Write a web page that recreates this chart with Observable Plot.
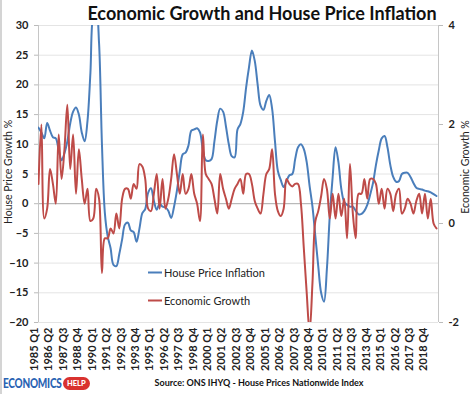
<!DOCTYPE html>
<html><head><meta charset="utf-8">
<script src="https://cdn.jsdelivr.net/npm/d3@7"></script>
<script src="https://cdn.jsdelivr.net/npm/@observablehq/plot@0.6"></script>
<style>
body{margin:0;background:#fff;font-family:Lato,"Open Sans",sans-serif;}
#wrap{position:relative;width:474px;height:394px;overflow:hidden;background:#fff}
.abs{position:absolute;white-space:nowrap}
.rot{transform:translate(-50%,-50%) rotate(-90deg)}
#title{left:262px;top:2px;transform:translateX(-50%);font-size:18px;font-weight:bold;color:#111}
.ytitle{font-size:10.5px;color:#222}
.leg{font-size:11px;color:#222;display:flex;align-items:center;transform:translateY(-50%)}
.leg span.sw{display:inline-block;width:14px;height:2px;margin-right:2px}
#src{left:259px;top:382px;transform:translate(-50%,-50%);font-size:9px;font-weight:bold;color:#111}
#logoE{left:3px;top:375px;font-size:13.5px;font-weight:900;color:#2a63b3;transform:scaleX(0.74);transform-origin:left center;letter-spacing:-0.3px}
#logoH{left:63px;top:377px;font-size:7.5px;font-weight:900;color:#fff;background:#d9322f;border-radius:7px;padding:2px 4px}
#edge{left:0;top:0;width:2px;height:394px;background:#d4d4d4}
</style></head>
<body><div id="wrap"></div>
<script>
// House price inflation (% y/y, Nationwide), quarterly from 1985 Q1
const houseInflation = [
12.8,12.0,11.0,13.6,12.3,11.2,11.0,9.0,7.3,8.5,
10.5,13.5,15.5,16.2,15.0,12.0,10.5,14.0,22.0,32.0,
33.0,27.0,10.0,-1.5,-5.5,-7.5,-10.3,-10.5,-8.5,-6.0,
-3.5,-3.2,-4.5,-4.8,-6.4,-4.2,-1.6,-0.9,1.8,2.6,
0.5,-1.0,0.0,-0.5,-0.6,-1.2,-2.4,-0.5,2.2,5.5,
8.3,8.6,9.8,12.3,12.5,12.7,12.0,9.0,7.3,7.2,
7.5,10.5,14.0,16.0,15.5,13.0,10.0,8.0,7.8,12.5,
13.4,15.5,19.6,23.0,25.8,24.0,20.0,16.5,15.8,17.3,
18.3,16.0,10.5,5.5,4.0,2.8,3.8,4.8,5.0,7.5,
9.5,10.0,9.2,7.0,3.0,-0.5,-5.5,-10.5,-15.0,-16.5,
-11.0,-2.0,4.5,9.5,7.0,2.5,0.3,-0.2,-0.5,-0.5,
-1.2,-1.8,-1.7,-1.2,-0.2,1.5,3.5,6.5,9.0,11.0,
11.4,9.5,6.5,4.5,3.7,3.8,5.0,5.2,5.2,4.5,
3.5,2.7,2.5,2.4,2.2,2.1,1.9,1.6,1.3
];
// Economic growth (% q/q, ONS IHYQ), quarterly from 1985 Q1
const economicGrowth = [
0.8,2.0,0.1,0.3,1.1,0.8,0.4,1.8,0.9,1.5,
2.4,1.1,1.8,0.6,1.5,0.9,0.4,0.7,0.05,0.1,
0.7,0.5,-1.0,-0.3,-0.3,-0.1,-0.2,0.2,-0.1,0.5,
0.7,0.7,0.5,0.8,0.7,1.2,1.15,0.9,0.3,0.25,
0.6,1.0,0.3,0.9,0.3,0.5,0.9,1.4,1.0,0.6,
1.0,0.6,0.7,1.0,0.6,0.4,0.05,1.8,1.0,0.9,
0.8,0.5,0.2,1.0,0.7,0.5,0.3,0.5,0.7,0.8,
0.9,0.6,1.0,1.0,0.8,0.45,0.3,0.2,0.6,1.0,
1.1,1.5,0.6,0.25,0.15,0.3,0.9,0.8,0.75,0.8,
0.8,0.4,-0.5,-1.4,-2.2,-1.2,0.05,0.25,0.55,0.9,
0.7,0.1,0.6,0.1,0.6,0.15,0.5,-0.3,1.2,0.2,
-0.3,0.6,0.6,0.9,0.5,0.9,0.9,0.8,0.4,0.7,
0.3,0.7,0.6,0.25,0.6,0.7,0.2,0.3,0.5,0.4,
0.2,0.45,0.6,0.2,0.6,0.1,0.5,0.0,-0.1
];
const tickLabels = ["1985 Q1","1986 Q2","1987 Q3","1988 Q4","1990 Q1","1991 Q2","1992 Q3","1993 Q4",
"1995 Q1","1996 Q2","1997 Q3","1998 Q4","2000 Q1","2001 Q2","2002 Q3","2003 Q4","2005 Q1","2006 Q2",
"2007 Q3","2008 Q4","2010 Q1","2011 Q2","2012 Q3","2013 Q4","2015 Q1","2016 Q2","2017 Q3","2018 Q4"];
const leftTicks = [-20,-15,-10,-5,0,5,10,15,20,25,30];
const rightTicks = [-2,0,2,4];
const seriesNames = ["House Price Inflation","Economic Growth"];
const colors = ["#4a7ebb","#be4b48"];

const leftDomain = [-20,30], rightDomain = [-2,4];
const toL = d3.scaleLinear().domain(rightDomain).range(leftDomain);
const xDomain = [0, 138.7];
const tickIndex = tickLabels.map((_, k) => k * 5);

const chart = Plot.plot({
  width: 474, height: 375,
  marginLeft: 38, marginRight: 36, marginTop: 25, marginBottom: 53,
  x: {domain: xDomain},
  y: {domain: leftDomain},
  style: {fontFamily: "Lato, 'Open Sans', sans-serif", fontSize: "11px", color: "#222", background: "transparent"},
  marks: [
    Plot.ruleY(leftTicks.filter(d => d !== 0), {stroke: "#e4e4e4", strokeWidth: 1}),
    Plot.ruleY([0], {stroke: "#a9a9a9", strokeWidth: 1}),
    Plot.ruleX(xDomain, {stroke: "#c6c6c6", strokeWidth: 1}),
    Plot.axisY(leftTicks, {anchor: "left", tickSize: 4, tickPadding: 6, label: null, fontWeight: "bold", stroke: "#bbb", fill: "#222"}),
    Plot.axisY(rightTicks.map(toL), {anchor: "right", tickSize: 4, tickPadding: 6, label: null, fontWeight: "bold",
      stroke: "#bbb", fill: "#222", tickFormat: d => String(Math.round(toL.invert(d)))}),
    Plot.axisX(tickIndex, {anchor: "bottom", tickRotate: -90, tickSize: 0, tickPadding: 5, label: null,
      fontWeight: "bold", fill: "#222", dx: -4, tickFormat: d => tickLabels[Math.round(d / 5)]}),
    Plot.lineY(houseInflation, {x: (d, i) => i, y: d => d, curve: "catmull-rom", stroke: colors[0], strokeWidth: 2, clip: true}),
    Plot.lineY(economicGrowth, {x: (d, i) => i, y: d => toL(d), curve: "catmull-rom", stroke: colors[1], strokeWidth: 2, clip: true})
  ]
});
chart.style.position = "absolute";
chart.style.left = "0px";
chart.style.top = "0px";
const wrap = document.getElementById("wrap");
wrap.appendChild(chart);

function add(html, cls, id, style) {
  const el = document.createElement("div");
  el.className = "abs " + (cls || "");
  if (id) el.id = id;
  if (style) el.setAttribute("style", style);
  el.innerHTML = html;
  wrap.appendChild(el);
  return el;
}
add("", "", "edge");
add("Economic Growth and House Price Inflation", "", "title");
add("House Price Growth %", "rot ytitle", null, "left:8px;top:172px");
add("Economic Growth %", "rot ytitle", null, "left:465px;top:167px");
add(`<span class="sw" style="background:${colors[0]}"></span>${seriesNames[0]}`, "leg", null, "left:148px;top:272px");
add(`<span class="sw" style="background:${colors[1]}"></span>${seriesNames[1]}`, "leg", null, "left:148px;top:300px");
add("Source: ONS IHYQ - House Prices Nationwide Index", "", "src");
add("ECONOMICS", "", "logoE");
add("HELP", "", "logoH");
</script>
</body></html>
